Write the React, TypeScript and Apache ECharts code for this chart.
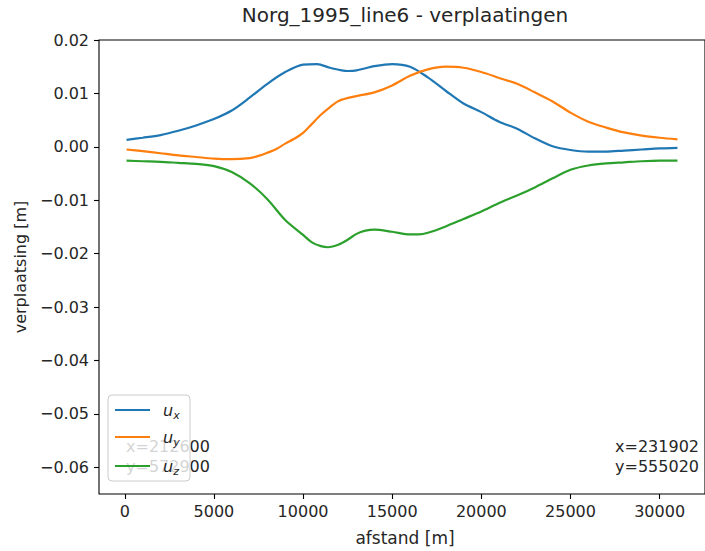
import React, { useEffect, useRef } from "react";
import * as echarts from "echarts";

// distance along profile [m]
const uxX = [100, 1000, 2000, 3000, 4000, 5000, 6000, 7000, 8000, 9000, 10000, 10800, 11500, 12500, 13000, 14000, 15000, 16000, 17000, 18000, 19000, 20000, 21000, 22000, 23000, 24000, 25000, 26000, 27000, 28000, 29000, 30000, 31000];
const uxY = [0.0013, 0.0017, 0.0022, 0.0030, 0.0040, 0.0052, 0.0068, 0.0092, 0.0118, 0.0140, 0.0154, 0.0155, 0.0148, 0.0142, 0.0143, 0.0151, 0.0155, 0.0150, 0.0130, 0.0105, 0.0081, 0.0065, 0.0047, 0.0034, 0.0016, 0.0001, -0.0006, -0.0009, -0.0009, -0.0007, -0.0005, -0.0003, -0.0002];

const uyX = [100, 1000, 2000, 3000, 4000, 5000, 6000, 7000, 7500, 8000, 8500, 9000, 9500, 10000, 10500, 11000, 11500, 12000, 13000, 14000, 15000, 16000, 17000, 18000, 19000, 20000, 21000, 22000, 23000, 24000, 25000, 26000, 27000, 28000, 29000, 30000, 31000];
const uyY = [-0.0005, -0.0008, -0.0012, -0.0016, -0.0019, -0.0022, -0.0023, -0.0021, -0.0017, -0.0011, -0.0004, 0.0006, 0.0015, 0.0026, 0.0043, 0.0060, 0.0074, 0.0086, 0.0095, 0.0102, 0.0115, 0.0133, 0.0145, 0.0150, 0.0148, 0.0140, 0.0129, 0.0118, 0.0102, 0.0085, 0.0064, 0.0047, 0.0036, 0.0027, 0.0021, 0.0017, 0.0014];

const uzX = [100, 1000, 2000, 3000, 4000, 5000, 6000, 7000, 8000, 9000, 10000, 10500, 11000, 11400, 12000, 12500, 13000, 13500, 14000, 15000, 16000, 16500, 17000, 18000, 19000, 20000, 21000, 22000, 23000, 24000, 25000, 26000, 27000, 28000, 29000, 30000, 31000];
const uzY = [-0.0026, -0.0027, -0.0028, -0.0030, -0.0032, -0.0036, -0.0047, -0.0068, -0.0098, -0.0137, -0.0165, -0.0179, -0.0186, -0.0188, -0.0183, -0.0174, -0.0163, -0.0157, -0.0155, -0.0159, -0.0164, -0.0164, -0.0161, -0.0149, -0.0135, -0.0121, -0.0105, -0.0091, -0.0076, -0.0059, -0.0043, -0.0035, -0.0031, -0.0029, -0.0027, -0.0026, -0.0026];

const xTicks = [0, 5000, 10000, 15000, 20000, 25000, 30000];
const yTicks = [-0.06, -0.05, -0.04, -0.03, -0.02, -0.01, 0, 0.01, 0.02];

const seriesNames = ["u_x", "u_y", "u_z"];
const subscripts = ["x", "y", "z"];
const seriesColors = ["#1f77b4", "#ff7f0e", "#2ca02c"];

const titleText = "Norg_1995_line6 - verplaatingen";
const xName = "afstand [m]";
const yName = "verplaatsing [m]";
const leftCoords = ["x=212600", "y=572900"];
const rightCoords = ["x=231902", "y=555020"];

const FONT = "DejaVu Sans";
const TXT = "#262626";

const zip = (xs: number[], ys: number[]) => xs.map((x, i) => [x, ys[i]]);

export default function App() {
  const ref = useRef<HTMLDivElement>(null);
  useEffect(() => {
    document.body.style.margin = "0";
    const chart = echarts.init(ref.current!, null, { renderer: "svg" });
    const data = [zip(uxX, uxY), zip(uyX, uyY), zip(uzX, uzY)];
    const fmtY = (v: number) => {
      const s = Math.abs(v).toFixed(2);
      return v < -1e-9 ? "\u2212" + s : s;
    };
    const legendRows = [410, 437, 466];
    const legendGraphics: any[] = [
      {
        type: "rect",
        z: 10,
        shape: { x: 108, y: 395, width: 82, height: 86, r: 4 },
        style: { fill: "rgba(255,255,255,0.8)", stroke: "#cccccc", lineWidth: 1 },
      },
      ...seriesNames.map((n, i) => ({
        type: "line",
        z: 11,
        shape: { x1: 115, y1: legendRows[i], x2: 150, y2: legendRows[i] },
        style: { stroke: seriesColors[i], lineWidth: 2.2 },
      })),
      ...seriesNames.map((n, i) => ({
        type: "text",
        z: 11,
        x: 163,
        y: legendRows[i],
        style: {
          text: `{u|u}{s|${subscripts[i]}}`,
          verticalAlign: "middle",
          align: "left",
          rich: {
            u: {
              fontFamily: FONT,
              fontStyle: "italic",
              fontSize: 16,
              fill: TXT,
              lineHeight: 22,
              verticalAlign: "middle",
            },
            s: {
              fontFamily: FONT,
              fontStyle: "italic",
              fontSize: 11,
              fill: TXT,
              lineHeight: 22,
              verticalAlign: "bottom",
            },
          },
        },
      })),
    ];
    chart.setOption({
      animation: false,
      backgroundColor: "#ffffff",
      grid: {
        left: 99,
        top: 40,
        width: 613,
        height: 454,
        show: true,
        borderColor: "#000000",
        borderWidth: 1.1,
        backgroundColor: "transparent",
      },
      xAxis: {
        type: "value",
        min: -1445,
        max: 32545,
        splitLine: { show: false },
        axisLine: { show: false, onZero: false },
        axisTick: {
          show: true,
          length: 5,
          customValues: xTicks,
          lineStyle: { color: "#000", width: 1.1 },
        },
        axisLabel: {
          customValues: xTicks,
          margin: 9,
          color: TXT,
          fontFamily: FONT,
          fontSize: 16,
          formatter: (v: number) => String(v),
        },
      },
      yAxis: {
        type: "value",
        min: -0.065,
        max: 0.02,
        splitLine: { show: false },
        axisLine: { show: false, onZero: false },
        axisTick: {
          show: true,
          length: 5,
          customValues: yTicks,
          lineStyle: { color: "#000", width: 1.1 },
        },
        axisLabel: {
          customValues: yTicks,
          margin: 10,
          color: TXT,
          fontFamily: FONT,
          fontSize: 16,
          formatter: fmtY,
        },
      },
      series: seriesNames.map((n, i) => ({
        name: n,
        type: "line",
        data: data[i],
        symbol: "none",
        smooth: 0.3,
        lineStyle: { color: seriesColors[i], width: 2.2 },
        itemStyle: { color: seriesColors[i] },
        z: 3,
      })),
      graphic: [
        {
          type: "text",
          x: 405,
          y: 15,
          z: 1,
          style: {
            text: titleText,
            fontFamily: FONT,
            fontSize: 20,
            fill: TXT,
            align: "center",
            verticalAlign: "middle",
          },
        },
        {
          type: "text",
          x: 405,
          y: 538,
          z: 1,
          style: {
            text: xName,
            fontFamily: FONT,
            fontSize: 17,
            fill: TXT,
            align: "center",
            verticalAlign: "middle",
          },
        },
        {
          type: "text",
          x: 20,
          y: 267,
          rotation: Math.PI / 2,
          z: 1,
          style: {
            text: yName,
            fontFamily: FONT,
            fontSize: 16,
            fill: TXT,
            align: "center",
            verticalAlign: "middle",
          },
        },
        ...leftCoords.map((t, i) => ({
          type: "text",
          x: 126,
          y: 446 + i * 20,
          z: 1,
          style: {
            text: t,
            fontFamily: FONT,
            fontSize: 16,
            fill: TXT,
            align: "left",
            verticalAlign: "middle",
          },
        })),
        ...rightCoords.map((t, i) => ({
          type: "text",
          x: 699,
          y: 446 + i * 20,
          z: 1,
          style: {
            text: t,
            fontFamily: FONT,
            fontSize: 16,
            fill: TXT,
            align: "right",
            verticalAlign: "middle",
          },
        })),
        ...legendGraphics,
      ],
    });
    return () => chart.dispose();
  }, []);
  return (
    <div
      ref={ref}
      style={{ position: "absolute", left: 0, top: 0, width: 705, height: 551 }}
    />
  );
}
